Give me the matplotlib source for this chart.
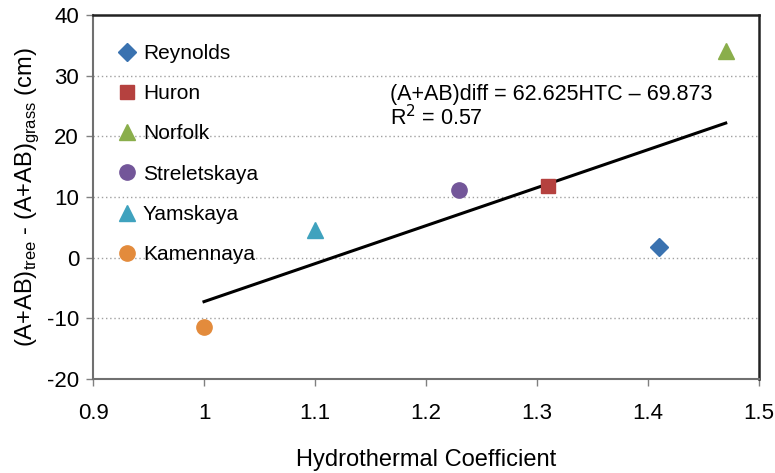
import numpy as np
import matplotlib.pyplot as plt

plt.rcParams['font.family'] = ['Liberation Sans', 'DejaVu Sans']
plt.rcParams['axes.unicode_minus'] = False

sites = ['Reynolds', 'Huron', 'Norfolk', 'Streletskaya', 'Yamskaya', 'Kamennaya']
htc = [1.41, 1.31, 1.47, 1.23, 1.10, 1.00]
diff = [1.7, 11.8, 34.0, 11.1, 4.6, -11.4]
markers = ['D', 's', '^', 'o', '^', 'o']
colors = ['#3A72B0', '#B5413F', '#8AAE4B', '#735699', '#3FA2BE', '#E38B3C']
sizes = [9, 10, 11, 11, 11, 11]

slope, intercept = 62.625, -69.873
r2 = 0.57

fig = plt.figure(figsize=(7.75, 4.73), dpi=100)
ax = fig.add_axes([0.12, 0.1987, 0.8594, 0.7696])

for s, xv, yv, m, c, ms in zip(sites, htc, diff, markers, colors, sizes):
    ax.plot([xv], [yv], linestyle='none', marker=m, color=c, markersize=ms,
            markeredgecolor=c, label=s, zorder=3)

xl = np.array([min(htc), max(htc)])
ax.plot(xl, slope * xl + intercept, color='black', lw=2.2, zorder=2)

ax.text(1.168, 28.6, '(A+AB)diff = 62.625HTC \u2013 69.873\nR$^2$ = %.2f' % r2,
        fontsize=15.5, va='top', ha='left', linespacing=1.0)

ax.set_xlim(0.9, 1.5)
ax.set_ylim(-20, 40)
ax.set_xticks(np.arange(0.9, 1.51, 0.1))
ax.set_xticklabels(['0.9', '1', '1.1', '1.2', '1.3', '1.4', '1.5'])
ax.set_yticks(range(-20, 41, 10))

for yv in range(-10, 31, 10):
    ax.axhline(yv, color='#A0A0A0', lw=1, ls=(0, (1, 2)), zorder=1)

ax.tick_params(axis='both', direction='out', length=5, width=1, color='#808080',
               labelsize=16, pad=5)
ax.tick_params(axis='x', pad=12)
for side in ['left', 'bottom']:
    ax.spines[side].set_color('#707070')
    ax.spines[side].set_linewidth(1.5)
for side in ['top', 'right']:
    ax.spines[side].set_color('#222222')
    ax.spines[side].set_linewidth(1.8)

ax.set_xlabel('Hydrothermal Coefficient', fontsize=17, labelpad=18)
ax.set_ylabel('(A+AB)$_{\\mathregular{tree}}$ - (A+AB)$_{\\mathregular{grass}}$ (cm)',
              fontsize=17, labelpad=4)

ax.legend(loc='upper left', bbox_to_anchor=(0.0, 0.972), frameon=False, fontsize=15,
          labelspacing=1.02, handletextpad=0.0, handlelength=1.5, borderaxespad=0.5)

fig.savefig('out.png', dpi=100)
